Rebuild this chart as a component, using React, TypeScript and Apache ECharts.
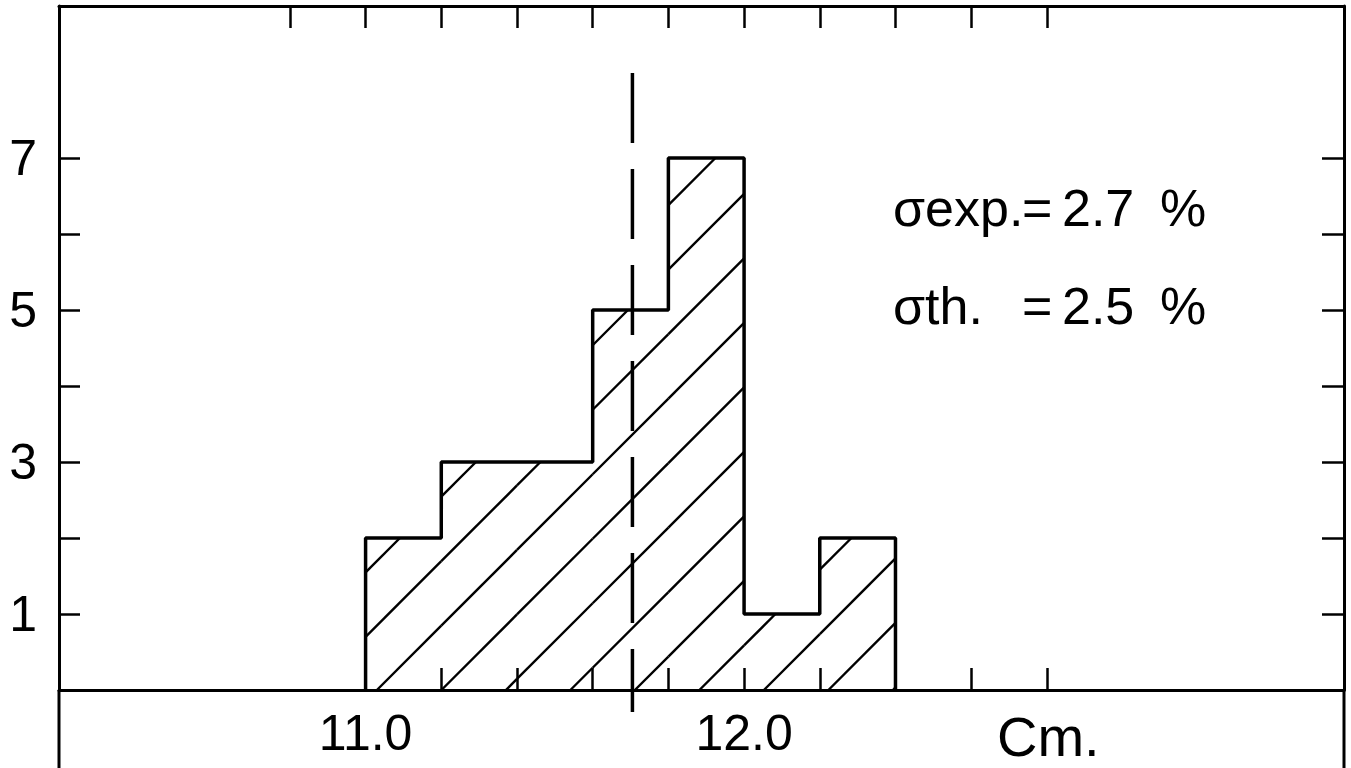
import { useEffect, useRef } from "react";
import * as echarts from "echarts";

// ---- data ----
const BIN_STARTS = [11.0, 11.2, 11.4, 11.6, 11.8, 12.0, 12.2];
const BIN_WIDTH = 0.2;
const COUNTS = [2, 3, 3, 5, 7, 1, 2];
const MEAN_CM = 11.705;
const MEAN_LINE_Y = [8.12, -0.29];
const X_MIN = 10.19;
const X_MAX = 13.585;
const Y_MIN = 0;
const Y_MAX = 9;
const TOP_TICKS = [10.8, 11.0, 11.2, 11.4, 11.6, 11.8, 12.0, 12.2, 12.4, 12.6, 12.8];
const BOTTOM_TICKS = [11.0, 11.2, 11.4, 11.6, 11.8, 12.0, 12.2, 12.4, 12.6, 12.8];
const X_LABELS = [11, 12];
const Y_TICKS = [1, 2, 3, 4, 5, 6, 7];
const Y_LABELS = [1, 3, 5, 7];
const X_UNIT = "Cm.";
const SIGMA_NAMES = ["σexp.", "σth."];
const SIGMA_VALUES = ["2.7", "2.5"];

// ---- style / layout ----
const INK = "#000";
const FONT = "Liberation Sans, Arial, sans-serif";
const GRID_LEFT = 59;
const GRID_RIGHT = 7;
const GRID_TOP = 6;
const GRID_BOTTOM = 78;
const W = 1351;
const H = 768;
const HATCH_ORIGIN = 11.03;
const HATCH_GAP = 64.5;

export default function App() {
  const ref = useRef<HTMLDivElement>(null);

  useEffect(() => {
    if (!ref.current) return;
    const chart = echarts.init(ref.current, undefined, { renderer: "svg" });

    const binData = BIN_STARTS.map((s, i) => [s, s + BIN_WIDTH, COUNTS[i]]);
    const outline: number[][] = [[BIN_STARTS[0], 0]];
    BIN_STARTS.forEach((s, i) => outline.push([s, COUNTS[i]]));
    const lastEnd = BIN_STARTS[BIN_STARTS.length - 1] + BIN_WIDTH;
    outline.push([lastEnd, COUNTS[COUNTS.length - 1]]);
    outline.push([lastEnd, 0]);

    const baseY = H - GRID_BOTTOM;
    const rightX = W - GRID_RIGHT;

    const axisLine = { show: true, onZero: false, lineStyle: { color: INK, width: 3 } };
    const tickStyle = { color: INK, width: 2.5 };
    const annFont = `52px ${FONT}`;

    const option: any = {
      animation: false,
      backgroundColor: "#fff",
      grid: { left: GRID_LEFT, right: GRID_RIGHT, top: GRID_TOP, bottom: GRID_BOTTOM },
      xAxis: [
        {
          type: "value",
          position: "bottom",
          min: X_MIN,
          max: X_MAX,
          axisLine,
          splitLine: { show: false },
          axisTick: { show: true, inside: true, length: 22, lineStyle: tickStyle, customValues: BOTTOM_TICKS },
          axisLabel: {
            show: true,
            customValues: X_LABELS,
            formatter: (v: number) => Number(v).toFixed(1),
            fontSize: 50,
            fontFamily: FONT,
            color: INK,
            margin: 18,
          },
        },
        {
          type: "value",
          position: "top",
          min: X_MIN,
          max: X_MAX,
          axisLine,
          splitLine: { show: false },
          axisTick: { show: true, inside: true, length: 22, lineStyle: tickStyle, customValues: TOP_TICKS },
          axisLabel: { show: false },
        },
      ],
      yAxis: [
        {
          type: "value",
          position: "left",
          min: Y_MIN,
          max: Y_MAX,
          axisLine,
          splitLine: { show: false },
          axisTick: { show: true, inside: true, length: 21, lineStyle: tickStyle, customValues: Y_TICKS },
          axisLabel: {
            show: true,
            customValues: Y_LABELS,
            fontSize: 50,
            fontFamily: FONT,
            color: INK,
            margin: 22,
          },
        },
        {
          type: "value",
          position: "right",
          min: Y_MIN,
          max: Y_MAX,
          axisLine,
          splitLine: { show: false },
          axisTick: { show: true, inside: true, length: 22, lineStyle: tickStyle, customValues: Y_TICKS },
          axisLabel: { show: false },
        },
      ],
      series: [
        {
          type: "custom",
          name: "hatch",
          silent: true,
          xAxisIndex: 0,
          yAxisIndex: 0,
          encode: { x: [0, 1], y: 2 },
          data: binData,
          renderItem: (_params: any, api: any) => {
            const x0 = api.value(0);
            const x1 = api.value(1);
            const c = api.value(2);
            const bl = api.coord([x0, 0]);
            const tr = api.coord([x1, c]);
            const org = api.coord([HATCH_ORIGIN, 0]);
            const left = bl[0];
            const bottom = bl[1];
            const right = tr[0];
            const top = tr[1];
            const h = bottom - top;
            const children: any[] = [];
            const nStart = Math.floor((left - h - org[0]) / HATCH_GAP) - 1;
            const nEnd = Math.ceil((right - org[0]) / HATCH_GAP) + 1;
            for (let n = nStart; n <= nEnd; n++) {
              const xb = org[0] + n * HATCH_GAP;
              const xa = Math.max(left, xb);
              const xe = Math.min(right, xb + h);
              if (xe - xa > 0.5) {
                children.push({
                  type: "line",
                  shape: { x1: xa, y1: bottom - (xa - xb), x2: xe, y2: bottom - (xe - xb) },
                  style: { stroke: INK, lineWidth: 2.4 },
                });
              }
            }
            return { type: "group", children };
          },
          z: 2,
        },
        {
          type: "line",
          name: "outline",
          step: "end",
          symbol: "none",
          silent: true,
          data: outline,
          lineStyle: { color: INK, width: 3.5 },
          z: 3,
        },
        {
          type: "line",
          name: "mean",
          symbol: "none",
          silent: true,
          clip: false,
          data: MEAN_LINE_Y.map((y) => [MEAN_CM, y]),
          lineStyle: { color: INK, width: 3.5, type: [70, 26] },
          z: 4,
        },
      ],
      graphic: [
        { type: "line", silent: true, shape: { x1: GRID_LEFT, y1: baseY, x2: GRID_LEFT, y2: H }, style: { stroke: INK, lineWidth: 3 } },
        { type: "line", silent: true, shape: { x1: rightX, y1: baseY, x2: rightX, y2: H }, style: { stroke: INK, lineWidth: 3 } },
        {
          type: "text",
          silent: true,
          left: 997,
          top: 708,
          style: { text: X_UNIT, font: `56px ${FONT}`, fill: INK },
        },
        ...SIGMA_NAMES.flatMap((name, i) => {
          const y = 182 + i * 98;
          return [
            { type: "text", silent: true, x: 893, y, style: { text: name, font: annFont, fill: INK } },
            { type: "text", silent: true, x: 1022, y, style: { text: "=", font: annFont, fill: INK } },
            { type: "text", silent: true, x: 1062, y, style: { text: SIGMA_VALUES[i], font: annFont, fill: INK } },
            { type: "text", silent: true, x: 1160, y, style: { text: "%", font: annFont, fill: INK } },
          ];
        }),
      ],
    };

    chart.setOption(option);
    return () => chart.dispose();
  }, []);

  return (
    <div
      ref={ref}
      style={{ position: "absolute", left: 0, top: 0, width: W, height: H, background: "#fff" }}
    />
  );
}
